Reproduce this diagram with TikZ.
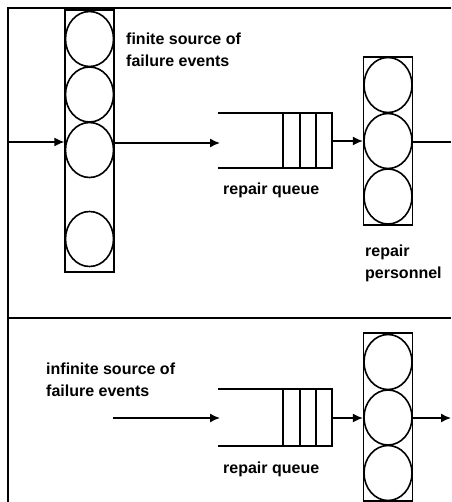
\documentclass[tikz,border=0pt]{standalone}
\usepackage{fontspec}
\setmainfont{Liberation Sans}
\usetikzlibrary{shapes.geometric,arrows.meta}
\begin{document}
\begin{tikzpicture}[x=1pt,y=-1pt,
  frame/.style={line width=2.4pt},
  shp/.style={line width=1.5pt},
  stack/.style={draw,line width=1.3pt,rectangle,inner sep=0pt,minimum width=49pt},
  srv/.style={draw,line width=1.6pt,ellipse,inner sep=0pt,minimum width=48pt,minimum height=55pt},
  arr/.style={line width=1.5pt,-{Latex[length=10pt,width=9pt]}},
  lbl/.style={inner sep=0pt,anchor=base west,align=left,font=\bfseries\fontsize{16}{22}\selectfont},
  cell/.style={line width=1.3pt}]
\useasboundingbox (0,0) rectangle (451,502);
% frame
\coordinate (tl) at (8,8);
\coordinate (tr) at (451,8);
\coordinate (bl) at (8,502);
\coordinate (ml) at (8,318);
\coordinate (mr) at (451,318);
\draw[frame] (tr) -- (tl) -- (bl);
\draw[frame] (ml) -- (mr);
% top source
\node[stack,minimum height=262pt] (src) at (89.5,141) {};
\node[srv] (s1) at (89.5,39) {};
\node[srv] (s2) at (89.5,94.5) {};
\node[srv] (s3) at (89.5,150) {};
\node[srv] (s4) at (89.5,239) {};
\coordinate (fb) at (8,142);
\draw[arr] (fb) -- (src.west |- fb);
\node[lbl] (t1) at (126,67) {finite source of\\failure events};
% top queue
\coordinate (q1a) at (218,113);
\coordinate (q1b) at (332,113);
\coordinate (q1c) at (332,168);
\coordinate (q1d) at (218,168);
\draw[shp] (q1a) -- (q1b) -- (q1c) -- (q1d);
\foreach \x in {283,300,316} \draw[cell] (\x,113) -- (\x,168);
\coordinate (q1in) at (220,143);
\draw[arr] (s3.east |- q1in) -- (q1in);
\node[lbl] (t2) at (223,195) {repair queue};
% top personnel
\node[stack,minimum height=168pt] (p1) at (388,141) {};
\node[srv] (p1a) at (388,85) {};
\node[srv] (p1b) at (388,141) {};
\node[srv] (p1c) at (388,196.5) {};
\coordinate (q1out) at (332,141);
\draw[arr] (q1out) -- (p1.west |- q1out);
\coordinate (o1) at (451,142);
\draw[shp] (p1.east |- o1) -- (o1);
\node[lbl] (t3) at (365,278) {repair\\personnel};
% bottom
\node[lbl] (t4) at (46,396) {infinite source of\\failure events};
\coordinate (q2a) at (218,389);
\coordinate (q2b) at (332,389);
\coordinate (q2c) at (332,446);
\coordinate (q2d) at (218,446);
\draw[shp] (q2a) -- (q2b) -- (q2c) -- (q2d);
\foreach \x in {283,300,316} \draw[cell] (\x,389) -- (\x,446);
\coordinate (in2a) at (113,418);
\coordinate (in2b) at (220,418);
\draw[arr] (in2a) -- (in2b);
\node[lbl] (t5) at (223,473) {repair queue};
\node[stack,minimum height=168pt] (p2) at (388,417) {};
\node[srv] (p2a) at (388,362) {};
\node[srv] (p2b) at (388,417.5) {};
\node[srv] (p2c) at (388,473) {};
\coordinate (q2out) at (332,418);
\draw[arr] (q2out) -- (p2.west |- q2out);
\coordinate (o2) at (451,418);
\draw[arr] (p2.east |- o2) -- (o2);
\end{tikzpicture}
\end{document}
